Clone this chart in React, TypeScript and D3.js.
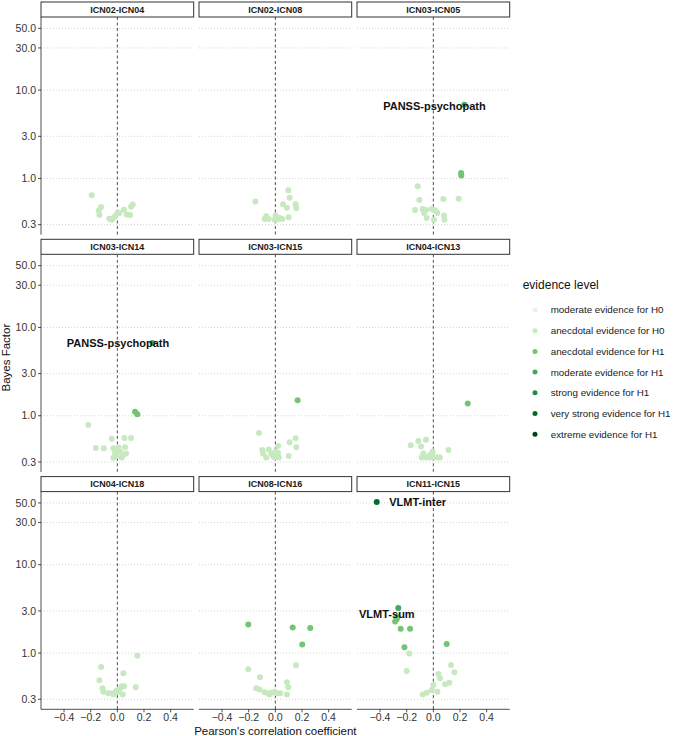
import React from "react";
import * as d3 from "d3";

// ---------- data ----------
const panelNames = [
  "ICN02-ICN04", "ICN02-ICN08", "ICN03-ICN05",
  "ICN03-ICN14", "ICN03-ICN15", "ICN04-ICN13",
  "ICN04-ICN18", "ICN08-ICN16", "ICN11-ICN15",
];

const r_ICN02_ICN04 = [-0.192, -0.122, -0.14, -0.135, -0.06, -0.03, -0.017, 0.0, 0.015, 0.05, 0.07, 0.095, 0.115, 0.103, -0.042];
const bf_ICN02_ICN04 = [0.644, 0.475, 0.435, 0.386, 0.351, 0.357, 0.373, 0.407, 0.407, 0.444, 0.39, 0.386, 0.506, 0.48, 0.342];

const r_ICN02_ICN08 = [-0.15, -0.068, -0.08, -0.05, 0.002, 0.012, 0.032, 0.052, 0.1, 0.057, 0.087, 0.097, 0.107, 0.152, 0.157, -0.005];
const bf_ICN02_ICN08 = [0.547, 0.373, 0.348, 0.348, 0.38, 0.341, 0.357, 0.348, 0.365, 0.51, 0.465, 0.735, 0.607, 0.51, 0.46, 0.341];

const r_ICN03_ICN05 = [-0.117, -0.105, -0.137, -0.08, -0.055, -0.05, 0.005, 0.013, 0.03, 0.08, 0.083, 0.075, 0.19, 0.208, 0.21, 0.233, -0.07, -0.012];
const bf_ICN03_ICN05 = [0.815, 0.571, 0.44, 0.45, 0.44, 0.357, 0.341, 0.436, 0.407, 0.38, 0.341, 0.585, 0.59, 1.156, 1.08, 6.82, 0.407, 0.45];

const r_ICN03_ICN14 = [-0.218, -0.162, -0.102, -0.042, -0.03, -0.017, -0.03, -0.005, 0.02, 0.033, 0.058, 0.065, 0.053, 0.103, 0.133, 0.15, 0.263, 0.008, 0.045];
const bf_ICN03_ICN14 = [0.787, 0.432, 0.428, 0.551, 0.43, 0.382, 0.335, 0.35, 0.395, 0.338, 0.44, 0.375, 0.56, 0.56, 1.114, 1.04, 6.65, 0.44, 0.36];

const r_ICN03_ICN15 = [-0.123, -0.098, -0.05, -0.093, -0.068, -0.018, 0.002, 0.02, 0.012, 0.027, 0.02, 0.1, 0.107, 0.152, 0.157, 0.167, -0.005, -0.03];
const bf_ICN03_ICN15 = [0.64, 0.41, 0.415, 0.373, 0.337, 0.35, 0.395, 0.455, 0.367, 0.337, 0.382, 0.35, 0.5, 0.556, 0.44, 1.5, 0.336, 0.373];

const r_ICN04_ICN13 = [-0.17, -0.113, -0.092, -0.055, -0.075, -0.055, -0.025, -0.005, 0.005, 0.03, 0.05, 0.113, 0.258, -0.03, -0.087, -0.012];
const bf_ICN04_ICN13 = [0.463, 0.519, 0.45, 0.537, 0.373, 0.337, 0.36, 0.395, 0.337, 0.34, 0.337, 0.41, 1.374, 0.336, 0.337, 0.37];

const r_ICN04_ICN18 = [-0.122, -0.135, -0.112, -0.105, -0.068, -0.042, -0.017, -0.005, 0.02, 0.033, 0.05, 0.04, 0.045, 0.138, 0.15, 0.008, -0.03];
const bf_ICN04_ICN18 = [0.697, 0.492, 0.4, 0.365, 0.35, 0.35, 0.355, 0.378, 0.4, 0.42, 0.42, 0.34, 0.59, 0.41, 0.935, 0.365, 0.34];

const r_ICN08_ICN16 = [-0.203, 0.13, 0.262, 0.202, 0.155, -0.203, -0.115, -0.143, -0.118, -0.08, -0.055, -0.03, -0.005, 0.012, 0.037, 0.087, 0.097, 0.087, -0.043];
const bf_ICN08_ICN16 = [2.1, 1.95, 1.92, 1.25, 0.728, 0.656, 0.532, 0.4, 0.387, 0.36, 0.35, 0.355, 0.365, 0.35, 0.35, 0.468, 0.41, 0.34, 0.34];

const r_ICN11_ICN15 = [-0.425, -0.263, -0.275, -0.287, -0.245, -0.175, -0.217, -0.18, -0.2, 0.1, 0.133, 0.158, 0.038, 0.05, 0.088, 0.12, 0.0, -0.012, 0.03, -0.05, -0.08, -0.27];
const bf_ICN11_ICN15 = [51.3, 3.23, 2.42, 2.27, 1.89, 1.89, 1.16, 0.99, 0.628, 1.27, 0.735, 0.607, 0.58, 0.52, 0.444, 0.46, 0.435, 0.382, 0.365, 0.355, 0.34, 2.6];

const panelR = [r_ICN02_ICN04, r_ICN02_ICN08, r_ICN03_ICN05, r_ICN03_ICN14, r_ICN03_ICN15, r_ICN04_ICN13, r_ICN04_ICN18, r_ICN08_ICN16, r_ICN11_ICN15];
const panelBF = [bf_ICN02_ICN04, bf_ICN02_ICN08, bf_ICN03_ICN05, bf_ICN03_ICN14, bf_ICN03_ICN15, bf_ICN04_ICN13, bf_ICN04_ICN18, bf_ICN08_ICN16, bf_ICN11_ICN15];

const evidenceLevels = [
  "moderate evidence for H0",
  "anecdotal evidence for H0",
  "anecdotal evidence for H1",
  "moderate evidence for H1",
  "strong evidence for H1",
  "very strong evidence for H1",
  "extreme evidence for H1",
];
const evidenceColors = ["#e5f5e0", "#c7e9c0", "#74c476", "#41ab5d", "#238b45", "#006d2c", "#00441b"];
const bfThresholds = [1 / 3, 1, 3, 10, 30, 100];

const labelPanel = [2, 3, 8, 8];
const labelText = ["PANSS-psychopath", "PANSS-psychopath", "VLMT-inter", "VLMT-sum"];
const labelR = [0.008, 0.005, -0.118, -0.349];
const labelBF = [6.58, 6.58, 51.3, 2.78];

const yTicks = [0.3, 1, 3, 10, 30, 50];
const xTicks = [-0.4, -0.2, 0, 0.2, 0.4];

// ---------- layout ----------
const W = 676;
const H = 736;
const FONT = "'Liberation Sans', Arial, Helvetica, sans-serif";
const left = 41;
const panelW = 152.7;
const gapX = 5.3;
const top0 = 2;
const rowStep = 237.3;
const stripH = 15;
const plotH = 217.7;

export default function App() {
  const x = d3.scaleLinear().domain([-0.573, 0.573]).range([0, panelW]);
  const y = d3.scaleLog().domain([0.231, 67.2]).range([plotH, 0]);
  const level = d3.scaleThreshold<number, number>().domain(bfThresholds).range([0, 1, 2, 3, 4, 5, 6]);
  const color = (bf: number) => evidenceColors[level(bf)];
  const yFmt = d3.format(".1f");

  return (
    <svg width={W} height={H} style={{ display: "block", position: "absolute", left: 0, top: 0, background: "#fff" }} fontFamily={FONT}>
      {panelNames.map((name, i) => {
        const col = i % 3;
        const row = Math.floor(i / 3);
        const px = left + col * (panelW + gapX);
        const sy = top0 + row * rowStep;
        const py = sy + stripH;
        const rs = panelR[i];
        const bs = panelBF[i];
        const idx = d3.range(rs.length).sort((a, b) => bs[a] - bs[b]);
        return (
          <g key={name}>
            <g transform={`translate(${px},${py})`}>
              {yTicks.map((t) => (
                <line key={t} x1={0} x2={panelW} y1={y(t)} y2={y(t)} stroke="#c9c9c9" strokeWidth={0.8} strokeDasharray="1 2" />
              ))}
              <line x1={x(0)} x2={x(0)} y1={0} y2={plotH} stroke="#222" strokeWidth={0.8} strokeDasharray="3 2.5" />
              {idx.map((k) => (
                <circle key={k} cx={x(rs[k])} cy={y(bs[k])} r={3} fill={color(bs[k])} />
              ))}
              {labelPanel.map((p, j) =>
                p === i ? (
                  <text key={j} x={x(labelR[j])} y={y(labelBF[j])} dy="0.35em" textAnchor="middle" fontSize={11} fontWeight="bold" fill="#111">
                    {labelText[j]}
                  </text>
                ) : null
              )}
              {col === 0 && (
                <g>
                  <line x1={0} x2={0} y1={0} y2={plotH} stroke="#222" strokeWidth={0.8} />
                  {yTicks.map((t) => (
                    <g key={t} transform={`translate(0,${y(t)})`}>
                      <line x1={-3} x2={0} stroke="#222" strokeWidth={0.8} />
                      <text x={-5} dy="0.35em" textAnchor="end" fontSize={10.5} fill="#333">{yFmt(t)}</text>
                    </g>
                  ))}
                </g>
              )}
              {row === 2 && (
                <g transform={`translate(0,${plotH})`}>
                  <line x1={0} x2={panelW} stroke="#222" strokeWidth={0.8} />
                  {xTicks.map((t) => (
                    <g key={t} transform={`translate(${x(t)},0)`}>
                      <line y1={0} y2={3} stroke="#222" strokeWidth={0.8} />
                      <text y={11.5} textAnchor="middle" fontSize={10.5} fill="#333">{yFmt(t)}</text>
                    </g>
                  ))}
                </g>
              )}
            </g>
            <rect x={px} y={sy} width={panelW} height={stripH} fill="#fff" stroke="#333" strokeWidth={1} />
            <text x={px + panelW / 2} y={sy + stripH / 2} dy="0.35em" textAnchor="middle" fontSize={9} fontWeight="bold" fill="#1a1a1a">
              {name}
            </text>
          </g>
        );
      })}
      <text transform={`translate(10,${top0 + (2 * rowStep + stripH + plotH) / 2 + 2}) rotate(-90)`} textAnchor="middle" fontSize={11.5} fill="#111">
        Bayes Factor
      </text>
      <text x={left + (3 * panelW + 2 * gapX) / 2} y={734.5} textAnchor="middle" fontSize={11.5} fill="#111">
        Pearson's correlation coefficient
      </text>
      <g transform="translate(522.7,0)">
        <text x={0} y={289} fontSize={12} fill="#111">evidence level</text>
        {evidenceLevels.map((lv, j) => (
          <g key={lv} transform={`translate(0,${310 + j * 20.7})`}>
            <circle cx={12.3} cy={0} r={2.5} fill={evidenceColors[j]} />
            <text x={28} dy="0.35em" fontSize={9.8} fill="#1a1a1a">{lv}</text>
          </g>
        ))}
      </g>
    </svg>
  );
}
